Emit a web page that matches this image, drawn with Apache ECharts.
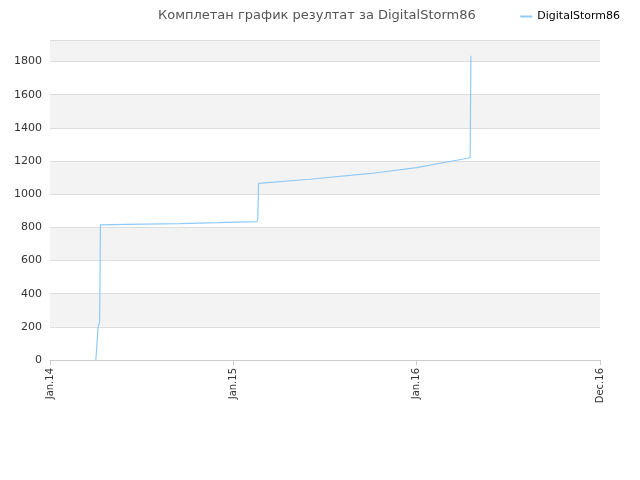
<!DOCTYPE html>
<html><head><meta charset="utf-8">
<script src="https://cdn.jsdelivr.net/npm/echarts@6/dist/echarts.min.js"></script>
<style>html,body{margin:0;padding:0}#c{width:640px;height:480px}</style>
</head><body><div id="c"></div>
<script>
const monthIdx = [3.0, 3.15, 3.25, 3.3, 5, 8.5, 11, 13.55, 13.6, 13.65, 17, 21, 24, 27.5, 27.55];
const scores   = [0, 200, 230, 815, 818, 823, 828, 835, 850, 1065, 1090, 1125, 1160, 1220, 1835];
const tickLabels = {0:'Jan.14', 12:'Jan.15', 24:'Jan.16', 36:'Dec.16'};
const chart = echarts.init(document.getElementById('c'));
chart.setOption({
  animation:false,
  title:{text:'Комплетан график резултат за DigitalStorm86',left:153,top:4,
    textStyle:{fontSize:13,fontWeight:'normal',color:'#555',fontFamily:'DejaVu Sans'}},
  legend:{right:15,top:6,itemWidth:12,itemHeight:2,icon:'rect',
    textStyle:{fontSize:11,color:'#000',fontFamily:'DejaVu Sans'},data:['DigitalStorm86']},
  grid:{left:50,right:40,top:40,bottom:120},
  xAxis:{type:'value',min:0,max:36,interval:12,
    axisLine:{lineStyle:{color:'#ccc'}},axisTick:{show:true,lineStyle:{color:'#ccc'}},
    splitLine:{show:false},
    axisLabel:{rotate:90,fontSize:10,color:'#333',fontFamily:'DejaVu Sans',formatter:v=>tickLabels[v]||''}},
  yAxis:{type:'value',min:0,max:1930,interval:200,
    axisLine:{show:false},axisTick:{show:false},
    axisLabel:{fontSize:11,color:'#333',fontFamily:'DejaVu Sans',showMaxLabel:false,formatter:v=>String(v)},
    splitLine:{lineStyle:{color:'#ddd'}},
    splitArea:{show:true,areaStyle:{color:['#ffffff','#f3f3f3']}}},
  series:[{name:'DigitalStorm86',type:'line',showSymbol:false,
    data:monthIdx.map((m,i)=>[m,scores[i]]),
    lineStyle:{color:'#90caf9',width:1.2},itemStyle:{color:'#90caf9'}}]
});
</script></body></html>
